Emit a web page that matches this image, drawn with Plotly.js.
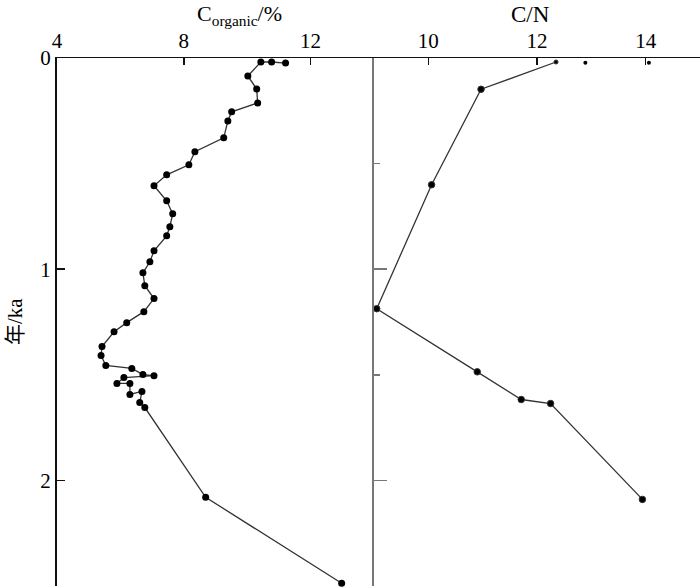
<!DOCTYPE html>
<html>
<head>
<meta charset="utf-8">
<script src="https://cdn.plot.ly/plotly-3.0.1.min.js"></script>
<style>html,body{margin:0;padding:0;background:#fff;}#chart{width:700px;height:588px;}</style>
</head>
<body>
<div id="chart"></div>
<script>
// Organic carbon (%) vs age (ka)
var corgValues = [11.21, 10.77, 10.43, 10.02, 10.30, 10.33, 9.51, 9.39, 9.26, 8.35, 8.16, 7.46, 7.06, 7.46, 7.65, 7.56, 7.46, 7.06, 6.93, 6.71, 6.77, 7.06, 6.74, 6.20, 5.80, 5.42, 5.39, 5.54, 6.36, 6.71, 7.06, 6.11, 5.89, 6.30, 6.30, 6.68, 6.61, 6.77, 8.69, 12.98];
var corgAges   = [0.024, 0.019, 0.019, 0.085, 0.147, 0.213, 0.255, 0.298, 0.378, 0.444, 0.506, 0.553, 0.605, 0.676, 0.738, 0.799, 0.842, 0.913, 0.965, 1.017, 1.078, 1.139, 1.201, 1.253, 1.296, 1.366, 1.409, 1.456, 1.470, 1.499, 1.504, 1.513, 1.541, 1.541, 1.593, 1.579, 1.631, 1.655, 2.080, 2.487];
// C/N ratio vs age (ka)
var cnValues = [12.35, 10.97, 10.06, 9.05, 10.90, 11.71, 12.25, 13.94];
var cnAges   = [0.019, 0.148, 0.600, 1.187, 1.486, 1.617, 1.636, 2.090];
// isolated C/N points at the top
var cnTopValues = [12.89, 14.06];
var cnTopAges   = [0.022, 0.022];
// axis ticks
var corgTicks = [4, 8, 12];
var cnTicks = [10, 12, 14];
var ageTicks = [0, 1, 2];

var serif = "Liberation Serif, Times New Roman, serif";
var cjk = "Liberation Serif, Noto Sans CJK SC, serif";
var tickFont = {family: serif, size: 21, color: '#000'};

var traces = [
  {x: corgValues, y: corgAges, xaxis: 'x', yaxis: 'y', mode: 'lines+markers',
   line: {color: '#333', width: 1.3}, marker: {size: 7, color: '#000', opacity: 1}, cliponaxis: false, hoverinfo: 'x+y'},
  {x: cnValues, y: cnAges, xaxis: 'x2', yaxis: 'y2', mode: 'lines+markers',
   line: {color: '#333', width: 1.3}, marker: {size: cnValues.map(function(v, i){return i === 0 ? 4 : 6.5;}), color: '#000', opacity: 1}, hoverinfo: 'x+y'},
  {x: cnTopValues, y: cnTopAges, xaxis: 'x2', yaxis: 'y2', mode: 'markers',
   marker: {size: 4, color: '#000', opacity: 1}, hoverinfo: 'x+y'}
];

var layout = {
  width: 700, height: 588,
  margin: {l: 57, r: 0, t: 58, b: 2, pad: 0},
  paper_bgcolor: '#fff', plot_bgcolor: '#fff',
  showlegend: false,
  font: {family: serif, size: 20, color: '#000'},
  xaxis: {domain: [0, 0.493], range: [4, 14], side: 'top', anchor: 'y',
    showline: true, linecolor: '#111', linewidth: 1.5, ticks: 'inside', ticklen: 7, tickwidth: 1.5, tickcolor: '#111',
    tickmode: 'array', tickvals: corgTicks, showgrid: false, zeroline: false, tickfont: tickFont},
  xaxis2: {domain: [0.493, 1], range: [9, 15], side: 'top', anchor: 'y2',
    showline: true, linecolor: '#111', linewidth: 1.5, ticks: 'inside', ticklen: 7, tickwidth: 1.5, tickcolor: '#111',
    tickmode: 'array', tickvals: cnTicks, showgrid: false, zeroline: false, tickfont: tickFont},
  yaxis: {domain: [0, 1], range: [2.5, 0], anchor: 'x',
    showline: true, linecolor: '#111', linewidth: 2, ticks: 'inside', ticklen: 8, tickwidth: 1.5, tickcolor: '#111',
    tickmode: 'array', tickvals: ageTicks, showgrid: false, zeroline: false, tickfont: tickFont},
  yaxis2: {domain: [0, 1], range: [2.5, 0], anchor: 'x2',
    showline: true, linecolor: '#777', linewidth: 2, ticks: 'inside', ticklen: 13, tickwidth: 1.5, tickcolor: '#777',
    tickmode: 'array', tickvals: [1, 2], showticklabels: false, showgrid: false, zeroline: false,
    minor: {tickmode: 'array', tickvals: [0.5, 1.5, 2.5], ticks: 'inside', ticklen: 6, tickwidth: 1.5, tickcolor: '#777', showgrid: false}},
  annotations: [
    {text: 'C<sub>organic</sub>/%', xref: 'paper', yref: 'paper', x: (239 - 57) / 643, y: 1 + (58 - 15) / 528,
     xanchor: 'center', yanchor: 'middle', showarrow: false, font: {family: serif, size: 22, color: '#000'}},
    {text: 'C/N', xref: 'paper', yref: 'paper', x: (530 - 57) / 643, y: 1 + (58 - 14) / 528,
     xanchor: 'center', yanchor: 'middle', showarrow: false, font: {family: serif, size: 23, color: '#000'}},
    {text: '年/ka', xref: 'paper', yref: 'paper', x: (15 - 57) / 643, y: 1 - (322 - 58) / 528,
     xanchor: 'center', yanchor: 'middle', textangle: -90, showarrow: false, font: {family: cjk, size: 21, color: '#000'}}
  ]
};

Plotly.newPlot('chart', traces, layout, {displayModeBar: false, staticPlot: true});
</script>
</body>
</html>
